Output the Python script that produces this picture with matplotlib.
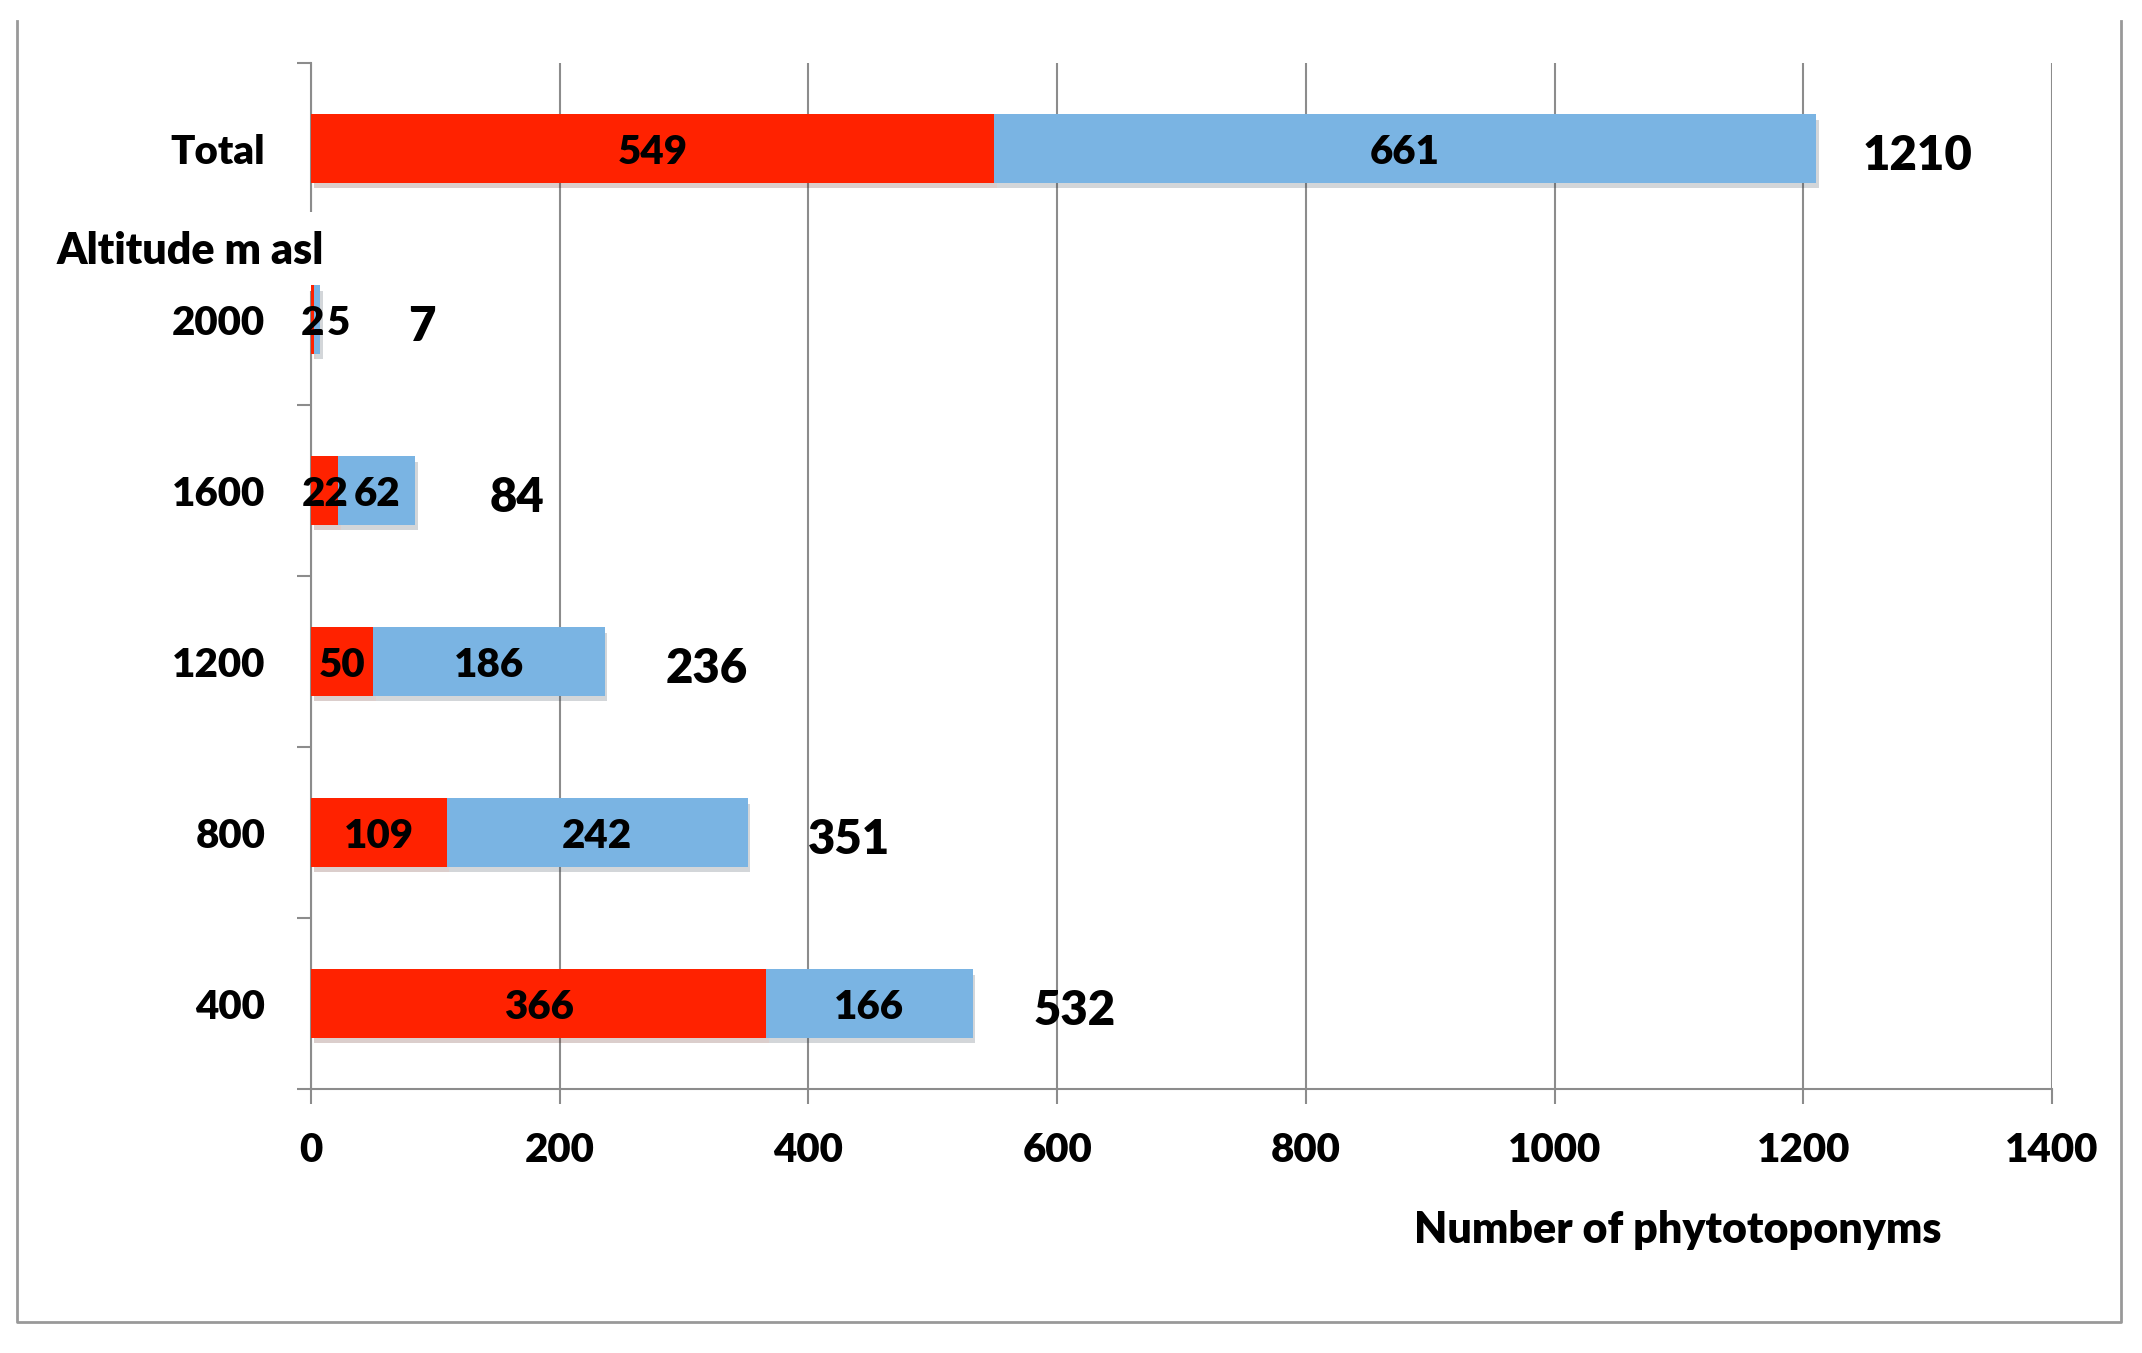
import matplotlib.pyplot as plt
import matplotlib.patheffects as pe
from matplotlib.lines import Line2D
import matplotlib.transforms as mtransforms

# data
categories = ['400', '800', '1200', '1600', '2000', 'Total']
red_vals = [366, 109, 50, 22, 2, 549]
blue_vals = [166, 242, 186, 62, 5, 661]
totals = [532, 351, 236, 84, 7, 1210]
x_ticks = [0, 200, 400, 600, 800, 1000, 1200, 1400]

RED = '#ff2200'
BLUE = '#7ab4e3'
GRID = '#8c8c8c'
W = 'heavy'

plt.rcParams['font.family'] = ['Lato', 'DejaVu Sans']
plt.rcParams['font.weight'] = W

fig = plt.figure(figsize=(21.42, 13.53), dpi=100)
ax = fig.add_axes([0.1452, 0.1951, 0.958 - 0.1452, 0.9534 - 0.1951])

ypos = list(range(len(categories)))
shadow = [pe.SimplePatchShadow(offset=(2, -4), alpha=0.2), pe.Normal()]
ax.barh(ypos, red_vals, height=0.4, color=RED, zorder=7, path_effects=shadow)
ax.barh(ypos, blue_vals, left=red_vals, height=0.4, color=BLUE, zorder=7,
        path_effects=shadow)

# value labels inside segments, totals beyond bar end
for i in ypos:
    ax.annotate(str(red_vals[i]), (red_vals[i] / 2, i), xytext=(0, -4),
                textcoords='offset pixels', ha='center', va='center',
                fontsize=29, fontweight=W, zorder=8)
    dx = 22 if blue_vals[i] < 10 else 0
    ax.annotate(str(blue_vals[i]), (red_vals[i] + blue_vals[i] / 2, i),
                xytext=(dx, -4), textcoords='offset pixels', ha='center',
                va='center', fontsize=29, fontweight=W, zorder=8)
    ax.annotate(str(totals[i]), (totals[i], i), xytext=(102, -7),
                textcoords='offset pixels', ha='center', va='center',
                fontsize=34, fontweight=W, zorder=8)

ax.set_xlim(0, 1400)
ax.set_ylim(-0.5, len(categories) - 0.5)
ax.set_xticks(x_ticks)
ax.set_xticklabels([str(v) for v in x_ticks], fontsize=29, fontweight=W)
ax.set_yticks(ypos)
ax.set_yticklabels(categories, fontsize=29, fontweight=W)
ax.set_yticks([p - 0.5 for p in ypos] + [len(categories) - 0.5], minor=True)
ax.tick_params(axis='y', which='major', length=0, pad=33)
ax.tick_params(axis='y', which='minor', length=10, width=1.5, color=GRID,
               direction='out')
ax.tick_params(axis='x', length=11, width=1.5, color=GRID, pad=20)

ax.grid(axis='x', color=GRID, linewidth=1.5, zorder=0)
ax.set_axisbelow(True)
for s in ['top', 'right']:
    ax.spines[s].set_visible(False)
for s in ['left', 'bottom']:
    ax.spines[s].set_color(GRID)
    ax.spines[s].set_linewidth(1.5)

ax.set_xlabel('Number of phytotoponyms', fontsize=31, fontweight=W)
ax.xaxis.set_label_coords(0.785, -0.118)

trans = mtransforms.blended_transform_factory(ax.transAxes, ax.transData)
ax.text(-0.146, 4.4, 'Altitude m asl', transform=trans, ha='left',
        va='center', fontsize=31, fontweight=W, zorder=6,
        bbox=dict(facecolor='white', edgecolor='none', pad=14))

# outer chart frame (left, right, bottom)
fx = [17 / 2142, 17 / 2142, 2121 / 2142, 2121 / 2142]
fy = [1 - 21 / 1353, 1 - 1322 / 1353, 1 - 1322 / 1353, 1 - 21 / 1353]
fig.add_artist(Line2D(fx, fy, color='#999999', linewidth=2,
                      transform=fig.transFigure))

fig.savefig('out.png', dpi=100, facecolor='white')
